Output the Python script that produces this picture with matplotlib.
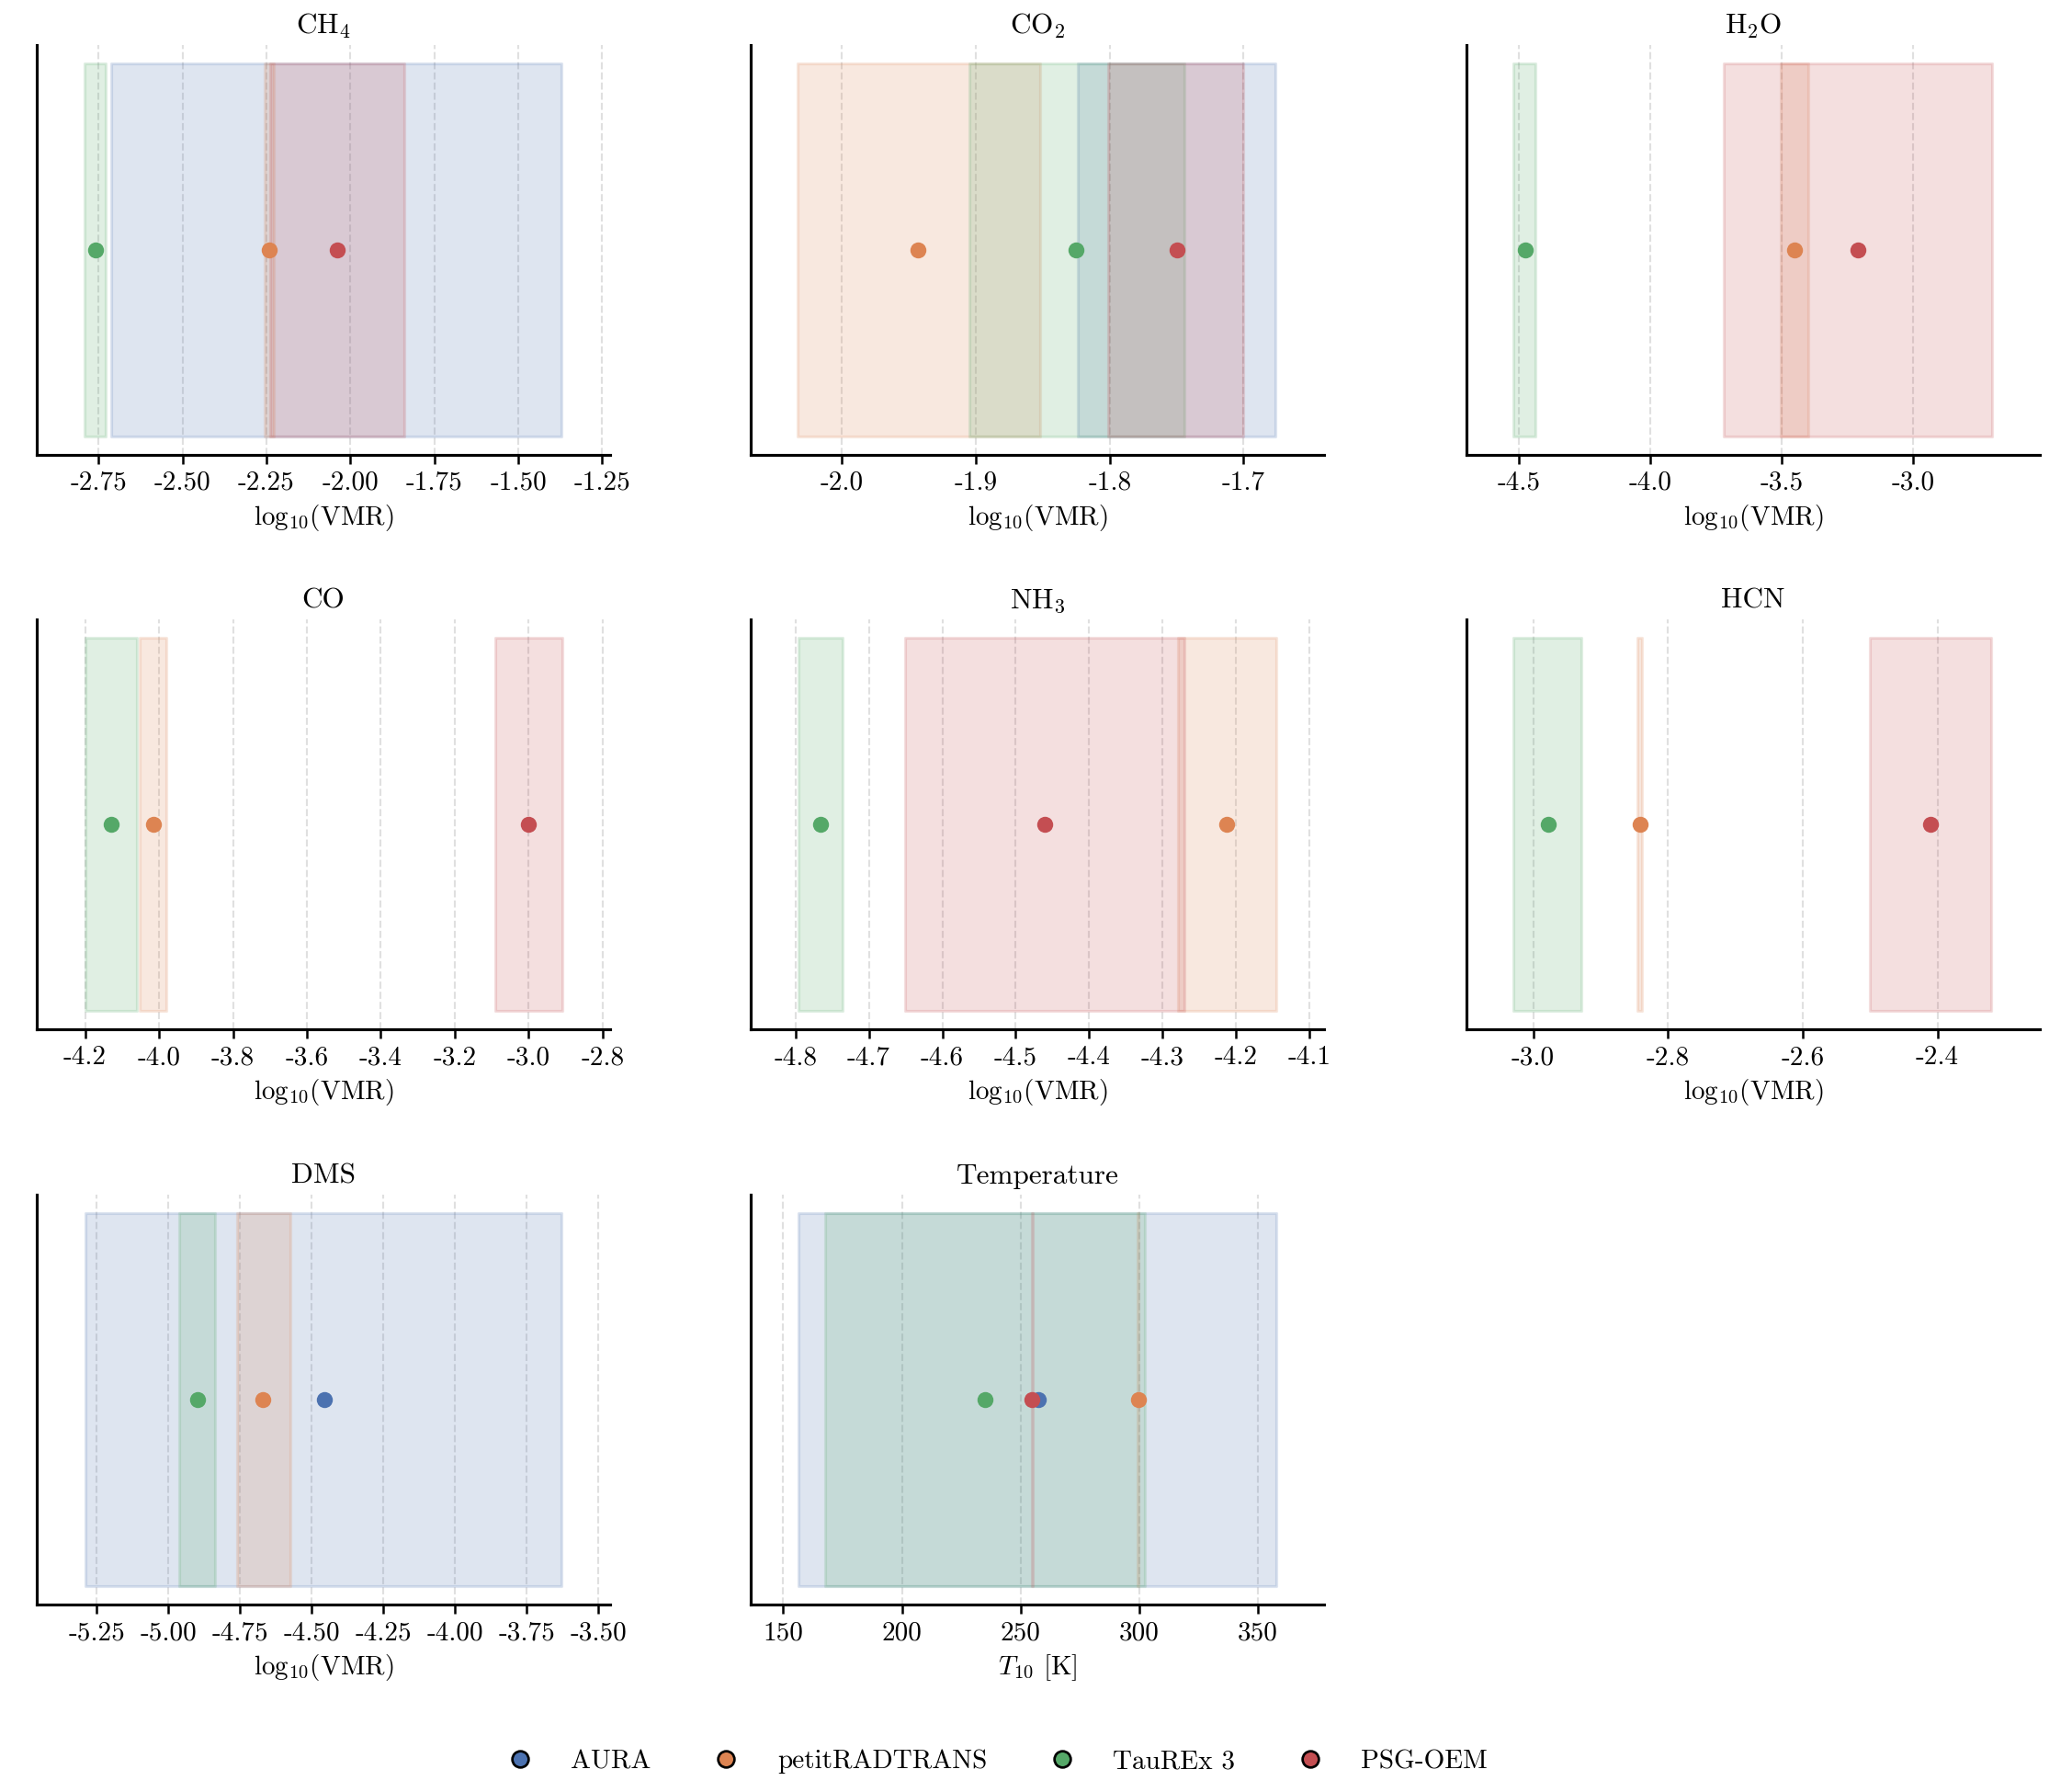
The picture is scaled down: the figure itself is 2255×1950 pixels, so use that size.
import numpy as np
import matplotlib
matplotlib.use("Agg")
import matplotlib.pyplot as plt
from matplotlib.lines import Line2D
from matplotlib.ticker import MultipleLocator

plt.rcParams['font.family'] = ['cmr10', 'DejaVu Serif']
plt.rcParams['mathtext.fontset'] = 'cm'
plt.rcParams['axes.unicode_minus'] = False
plt.rcParams['axes.formatter.use_mathtext'] = False

# ---------------- data ----------------
panels = ["CH$_4$", "CO$_2$", "H$_2$O", "CO", "NH$_3$", "HCN", "DMS", "Temperature"]
xlabels = ["log$_{10}$(VMR)"] * 7 + ["$T_{10}$ [K]"]
tick_steps = [0.25, 0.1, 0.5, 0.2, 0.1, 0.2, 0.25, 50]
xlims = [(-2.934, -1.227), (-2.068, -1.640), (-4.701, -2.516), (-4.331, -2.780),
         (-4.861, -4.080), (-3.099, -2.248), (-5.460, -3.460), (136.3, 377.8)]

models = ["AURA", "petitRADTRANS", "TauREx 3", "PSG-OEM"]
colors = ["#4C72B0", "#DD8452", "#55A868", "#C44E52"]

nan = np.nan
# lower bound, upper bound, median for each model, per panel
aura_lo  = [-2.712, -1.824, nan, nan, nan, nan, -5.291, 156.3]
aura_hi  = [-1.371, -1.676, nan, nan, nan, nan, -3.629, 357.6]
aura_med = [nan,    nan,    nan, nan, nan, nan, -4.458, 257.3]

prt_lo  = [-2.254, -2.033, -3.503, -4.052, -4.279, -2.846, -4.760, 299.2]
prt_hi  = [-2.228, -1.852, -3.397, -3.980, -4.145, -2.838, -4.576, 299.8]
prt_med = [-2.241, -1.943, -3.451, -4.016, -4.212, -2.842, -4.670, 299.6]

tau_lo  = [-2.791, -1.905, -4.522, -4.200, -4.796, -3.029, -4.962, 167.8]
tau_hi  = [-2.729, -1.744, -4.438, -4.059, -4.736, -2.929, -4.838, 302.2]
tau_med = [-2.759, -1.825, -4.478, -4.129, -4.766, -2.978, -4.899, 235.1]

psg_lo  = [-2.240, -1.801, -3.721, -3.090, -4.651, -2.501, nan, 254.7]
psg_hi  = [-1.839, -1.700, -2.700, -2.910, -4.270, -2.320, nan, 255.2]
psg_med = [-2.040, -1.750, -3.209, -3.001, -4.460, -2.411, nan, 254.9]

los = [aura_lo, prt_lo, tau_lo, psg_lo]
his = [aura_hi, prt_hi, tau_hi, psg_hi]
meds = [aura_med, prt_med, tau_med, psg_med]

# ---------------- layout ----------------
fig = plt.figure(figsize=(2255 / 150, 1950 / 150), dpi=150)
lefts = [0.0177, 0.3623, 0.7078]
bottoms = [0.7462, 0.4256, 0.1046]
w, h = 0.2767, 0.2287

for i, name in enumerate(panels):
    r, c = divmod(i, 3)
    ax = fig.add_axes([lefts[c], bottoms[r], w, h])
    for m in range(4):
        lo, hi = los[m][i], his[m][i]
        if not np.isnan(lo):
            ax.fill_betweenx([0, 1], lo, hi, facecolor=colors[m], edgecolor=colors[m],
                             alpha=0.18, linewidth=1.5, zorder=2)
    for m in range(4):
        md = meds[m][i]
        if not np.isnan(md):
            ax.scatter([md], [0.5], s=70, color=colors[m], zorder=4, linewidths=0)
    ax.set_ylim(-0.05, 1.05)
    ax.set_xlim(*xlims[i])
    ax.xaxis.set_major_locator(MultipleLocator(tick_steps[i]))
    ax.set_yticks([])
    ax.grid(axis='x', linestyle='--', color='#e0e0e0', linewidth=1.0, zorder=1)
    ax.set_axisbelow(True)
    for s in ['top', 'right']:
        ax.spines[s].set_visible(False)
    for s in ['left', 'bottom']:
        ax.spines[s].set_linewidth(1.5)
    ax.tick_params(axis='x', labelsize=14, direction='out', length=5, width=1.2)
    ax.set_title(name, fontsize=15, pad=6)
    ax.set_xlabel(xlabels[i], fontsize=14)

handles = [Line2D([0], [0], marker='o', linestyle='none', markerfacecolor=colors[m],
                  markeredgecolor='black', markeredgewidth=1.3, markersize=8.5)
           for m in range(4)]
fig.legend(handles, models, loc='center', bbox_to_anchor=(0.478, 0.017), ncol=4,
           frameon=False, fontsize=14, columnspacing=1.8, handletextpad=0.9)

fig.savefig("out.png", dpi=150)
